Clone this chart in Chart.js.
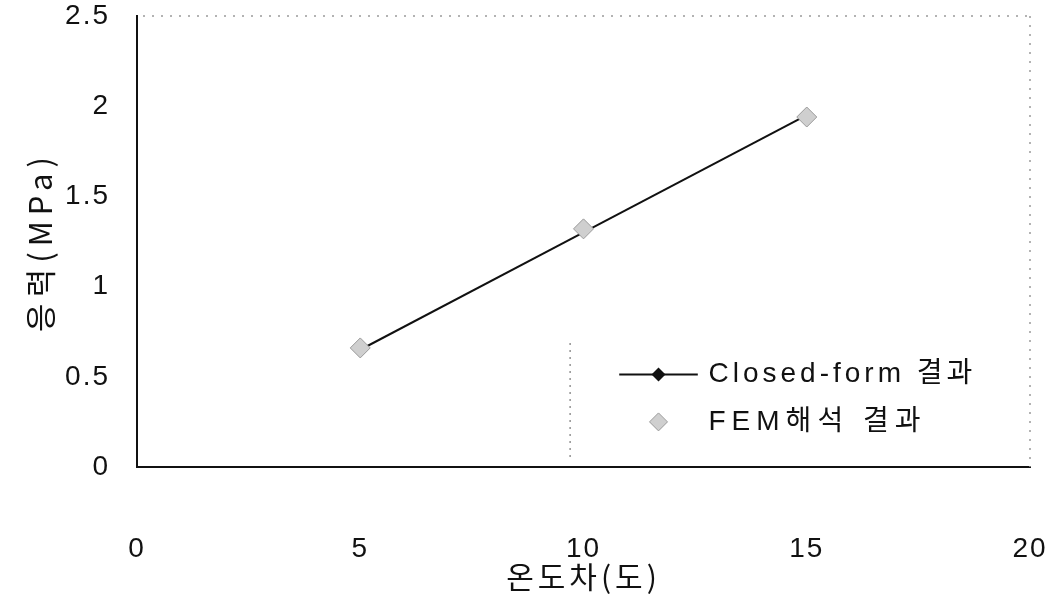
<!DOCTYPE html>
<html>
<head>
<meta charset="utf-8">
<script src="https://cdn.jsdelivr.net/npm/chart.js@4/dist/chart.umd.min.js"></script>
<style>
  html, body { margin: 0; padding: 0; background: #fff; }
  #wrap { position: relative; width: 1052px; height: 601px; }
</style>
</head>
<body>
<div id="wrap"><canvas id="c"></canvas></div>
<script>
// ---- data ----
const temperatureDiff = [5, 10, 15];
const closedForm = [0.65, 1.30, 1.95];
const femResult = [0.66, 1.32, 1.94];
const xTickLabels = ['0', '5', '10', '15', '20'];
const yTickLabels = ['0', '0.5', '1', '1.5', '2', '2.5'];
const seriesNames = ['Closed-form 결과', 'FEM해석 결과'];
const xTitle = '온도차(도)';
const yTitle = '응력(MPa)';

const FONT = '"Liberation Sans", Arial, "Noto Sans CJK KR", sans-serif';
const KFONT = '"Noto Sans CJK KR", "Liberation Sans", sans-serif';

const femStyle = {
  pointStyle: 'rectRot', pointRadius: 10,
  pointBackgroundColor: '#cfcfcf',
  pointBorderColor: '#9a9a9a', pointBorderWidth: 1
};
const cfStyle = {
  pointStyle: 'rectRot', pointRadius: 3,
  pointBackgroundColor: '#111', pointBorderColor: '#111',
  borderColor: '#111', borderWidth: 2
};

const TICK_LS = '2px';

function patchTitle(scale, ls) {
  if (!scale || scale.__patched) return;
  const orig = scale.drawTitle;
  scale.drawTitle = function () {
    const ctx = this.ctx;
    const prev = ctx.letterSpacing;
    ctx.letterSpacing = ls;
    orig.apply(this, arguments);
    ctx.letterSpacing = prev;
  };
  scale.__patched = true;
}

const framePlugin = {
  id: 'frame',
  beforeDraw(chart) {
    chart.ctx.letterSpacing = TICK_LS;
    patchTitle(chart.scales.x, '4px');
    patchTitle(chart.scales.y, '6px');
  },
  afterDraw(chart) {
    const ctx = chart.ctx;
    const ca = chart.chartArea;
    ctx.save();
    // dotted top and right frame
    ctx.strokeStyle = '#9a9a9a';
    ctx.lineWidth = 1.5;
    ctx.setLineDash([2, 7]);
    ctx.beginPath();
    ctx.moveTo(ca.left + 6, ca.top);
    ctx.lineTo(ca.right, ca.top);
    ctx.moveTo(ca.right, ca.top);
    ctx.lineTo(ca.right, ca.bottom);
    ctx.stroke();

    // legend box (dotted left edge)
    const w = ca.right - ca.left, h = ca.bottom - ca.top;
    const bx = ca.left + 0.485 * w;
    const by = ca.top + 0.725 * h;
    ctx.setLineDash([2, 5]);
    ctx.strokeStyle = '#777';
    ctx.lineWidth = 1.2;
    ctx.beginPath();
    ctx.moveTo(bx, by);
    ctx.lineTo(bx, ca.bottom - 8);
    ctx.stroke();
    ctx.setLineDash([]);

    const row1 = ca.top + 0.795 * h;
    const row2 = ca.top + 0.90 * h;
    const lx0 = ca.left + 0.54 * w, lx1 = ca.left + 0.628 * w;
    const mx = (lx0 + lx1) / 2;
    const tx = ca.left + 0.64 * w;

    // row 1: line + black diamond
    ctx.strokeStyle = cfStyle.borderColor;
    ctx.lineWidth = cfStyle.borderWidth;
    ctx.beginPath();
    ctx.moveTo(lx0, row1);
    ctx.lineTo(lx1, row1);
    ctx.stroke();
    ctx.fillStyle = '#111';
    ctx.beginPath();
    ctx.moveTo(mx, row1 - 7); ctx.lineTo(mx + 7, row1); ctx.lineTo(mx, row1 + 7); ctx.lineTo(mx - 7, row1); ctx.closePath();
    ctx.fill();

    // row 2: grey marker
    ctx.fillStyle = femStyle.pointBackgroundColor;
    ctx.strokeStyle = femStyle.pointBorderColor;
    ctx.lineWidth = 1;
    ctx.beginPath();
    ctx.moveTo(mx, row2 - 9); ctx.lineTo(mx + 9, row2); ctx.lineTo(mx, row2 + 9); ctx.lineTo(mx - 9, row2); ctx.closePath();
    ctx.fill(); ctx.stroke();

    // texts
    ctx.fillStyle = '#111';
    ctx.font = '28px ' + FONT;
    ctx.letterSpacing = '4px';
    ctx.textBaseline = 'middle';
    ctx.textAlign = 'left';
    ctx.fillText(seriesNames[0], tx, row1);
    ctx.letterSpacing = '6px';
    ctx.fillText(seriesNames[1], tx, row2);
    ctx.restore();
  }
};

new Chart(document.getElementById('c'), {
  type: 'scatter',
  data: {
    datasets: [
      Object.assign({
        label: seriesNames[1],
        data: temperatureDiff.map((t, i) => ({ x: t, y: femResult[i] })),
        showLine: false,
        order: 0
      }, femStyle),
      Object.assign({
        label: seriesNames[0],
        data: temperatureDiff.map((t, i) => ({ x: t, y: closedForm[i] })),
        showLine: true,
        fill: false,
        tension: 0,
        order: 1
      }, cfStyle)
    ]
  },
  options: {
    responsive: true,
    maintainAspectRatio: false,
    animation: false,
    layout: { padding: { top: 16, right: 22, bottom: 0, left: 0 } },
    plugins: {
      legend: { display: false },
      tooltip: { enabled: false }
    },
    scales: {
      x: {
        type: 'linear',
        min: 0, max: 20,
        grid: { display: false },
        border: { display: true, color: '#111', width: 2 },
        ticks: {
          stepSize: 5,
          padding: 57,
          color: '#111',
          font: { family: FONT, size: 28 },
          callback: (v) => xTickLabels[Math.round(v / 5)] ?? ''
        },
        title: {
          display: true, text: xTitle, color: '#111',
          font: { family: KFONT, size: 30 },
          padding: { top: 4, bottom: 6 }
        },
        afterFit: (s) => { s.height = 134; s.paddingLeft = 10; s.paddingRight = 10; }
      },
      y: {
        type: 'linear',
        min: 0, max: 2.5,
        grid: { display: false },
        border: { display: true, color: '#111', width: 2 },
        ticks: {
          stepSize: 0.5,
          padding: 19,
          color: '#111',
          font: { family: FONT, size: 28 },
          callback: (v) => yTickLabels[Math.round(v / 0.5)] ?? ''
        },
        title: {
          display: true, text: yTitle, color: '#111',
          font: { family: KFONT, size: 31 },
          padding: { top: 22, bottom: 4 }
        },
        afterFit: (s) => { s.width = 137; s.paddingTop = 10; s.paddingBottom = 10; }
      }
    }
  },
  plugins: [framePlugin]
});
</script>
</body>
</html>
